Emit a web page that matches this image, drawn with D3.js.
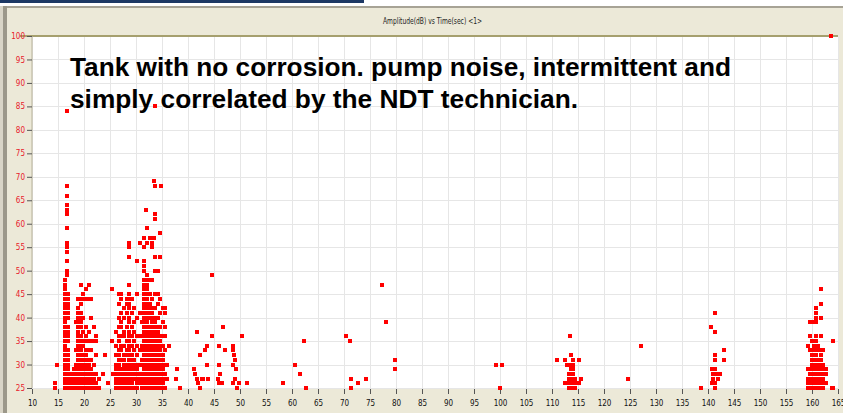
<!DOCTYPE html>
<meta charset="utf-8">
<script src="https://d3js.org/d3.v7.min.js"></script>
<style>
  body { margin: 0; background: #ece9d8; overflow: hidden; }
  .axis text { font-family: "DejaVu Sans Condensed", "Liberation Sans Narrow", Arial, sans-serif; font-size: 8px; }
  .axis path { display: none; }
  .axis--y text { fill: #e8202a; }
  .axis--x text { fill: #111; }
  .axis line { stroke: #555; }
  .grid line { stroke: #e6e6e6; shape-rendering: crispEdges; }
  .grid path { display: none; }
  .note { font-family: Arial, "Liberation Sans", sans-serif; font-weight: bold; font-size: 25px; fill: #000; }
  .title { font-family: "DejaVu Sans Condensed", "Liberation Sans Narrow", Arial, sans-serif; font-size: 8px; fill: #222; }
</style>
<body></body>
<script>

// tick values
var timeTicks = [10, 15, 20, 25, 30, 35, 40, 45, 50, 55, 60, 65, 70, 75, 80, 85, 90, 95, 100,
                 105, 110, 115, 120, 125, 130, 135, 140, 145, 150, 155, 160, 165];
var ampTicks = [25, 30, 35, 40, 45, 50, 55, 60, 65, 70, 75, 80, 85, 90, 95, 100];

// hits: [time (sec), [amplitudes (dB)]]
var burst16 = [
  [14.4, [25, 26]],
  [14.8, [30]],
  [16.3, [25, 26, 27, 28, 29, 30, 31, 32, 33, 34, 35, 36, 37, 38, 39, 40, 41, 42, 43, 44, 45, 46, 47, 48]],
  [16.7, [49, 50, 52, 54, 55, 56, 59, 62, 63, 64, 66, 68, 84]],
  [17.0, [25, 26, 27, 28, 29, 30, 31, 32, 33, 35, 36, 37, 38, 40, 41, 42, 43, 44, 45]],
  [17.6, [25, 26, 27, 28]],
  [18.1, [25, 26, 29]]
];
var burst20 = [
  [18.5, [25, 26, 27, 28, 29, 30, 33, 39]],
  [18.9, [25, 26, 27, 28, 29, 30, 31, 32, 33, 34, 35, 36, 37, 38, 39, 40, 41, 42, 44]],
  [19.4, [25, 26, 27, 28, 29, 30, 31, 32, 33, 34, 35, 36, 38, 39, 40, 41, 43, 44, 47]],
  [19.9, [25, 26, 27, 28, 29, 30, 31, 32, 34, 35, 37, 40, 44, 45]],
  [20.4, [25, 26, 27, 28, 29, 30, 31, 32, 33, 35, 36, 38, 44, 46]],
  [20.9, [25, 26, 27, 28, 29, 30, 31, 33, 35, 37, 44, 47]],
  [21.4, [25, 26, 27, 28, 29, 31, 33, 35, 40, 44]],
  [21.9, [25, 26, 27, 28, 30, 35, 38]],
  [22.4, [25, 26, 28, 32, 35, 36]],
  [22.9, [25, 27]],
  [23.7, [28]],
  [24.0, [32]],
  [24.6, [26]],
  [25.3, [35, 46]],
  [25.6, [28]]
];
var burst28 = [
  [26.2, [25, 26, 27, 28, 29, 30, 32, 34, 37]],
  [26.7, [25, 26, 27, 28, 29, 30, 31, 32, 33, 35, 36, 38, 40, 43, 45]],
  [27.2, [25, 26, 27, 28, 29, 31, 33, 34, 36, 38, 39, 41, 44, 45]],
  [27.7, [25, 26, 27, 28, 29, 30, 31, 32, 34, 36, 37, 40, 42]],
  [28.2, [25, 26, 27, 28, 29, 30, 32, 33, 35, 38, 41, 43, 44]],
  [28.7, [25, 26, 27, 28, 29, 30, 31, 32, 33, 34, 35, 36, 37, 39, 40, 42, 43, 44, 45, 47, 53, 55, 56]],
  [29.2, [25, 26, 27, 28, 29, 30, 31, 32, 34, 36, 38, 41, 44]],
  [29.7, [25, 27, 28, 29, 30, 31, 33, 35, 37, 39, 42]],
  [30.2, [25, 26, 27, 28, 29, 30, 32, 34, 36, 40, 45, 52]],
  [30.7, [26, 27, 28, 30, 33, 36, 41, 56]],
  [31.1, [25, 28, 31, 34, 39]]
];
var burst33 = [
  [31.6, [25, 26, 27, 28, 29, 30, 31, 32, 33, 34, 35, 36, 37, 38, 39, 40, 41, 42, 43, 44, 45, 46, 47, 48, 50, 51, 52, 55, 57]],
  [31.9, [63]],
  [32.1, [25, 26, 27, 28, 29, 30, 31, 32, 33, 34, 35, 36, 37, 38, 39, 40, 41, 42, 43, 44, 45, 46, 47, 48, 49, 56, 59]],
  [32.6, [25, 26, 27, 28, 29, 30, 31, 32, 33, 34, 35, 36, 37, 38, 40, 41, 42, 43, 45, 48, 57]],
  [33.1, [25, 26, 27, 28, 29, 30, 31, 32, 33, 34, 35, 36, 37, 38, 39, 40, 41, 42, 44, 48, 55, 56]],
  [33.4, [57, 69]],
  [33.7, [25, 26, 27, 28, 29, 30, 31, 32, 33, 34, 35, 36, 37, 38, 39, 40, 42, 45, 50, 53, 61, 62, 68, 85]],
  [34.2, [25, 26, 27, 28, 29, 30, 31, 32, 33, 34, 35, 36, 37, 38, 40, 43, 45, 50]],
  [34.7, [25, 26, 27, 28, 29, 30, 31, 32, 33, 34, 35, 36, 38, 41, 44, 53, 58]],
  [34.9, [68]],
  [35.2, [25, 26, 27, 28, 29, 30, 31, 32, 34, 36, 39, 42]],
  [35.6, [25, 27, 28, 30, 33, 36, 38, 41, 42]],
  [36.0, [27, 30]],
  [36.4, [34]]
];
var burst113 = [
  [113.2, [25, 26, 27, 28]],
  [113.6, [25, 26, 27, 28, 29, 30]],
  [114.0, [25, 26, 27, 28, 29, 30, 31]],
  [114.4, [25, 26, 27]]
];
var burst161 = [
  [159.2, [25, 26, 27, 29, 34]],
  [159.6, [25, 26, 27, 28, 33, 36, 39]],
  [160.0, [25, 26, 27, 28, 29, 30, 31, 32, 33, 35]],
  [160.4, [25, 26, 27, 28, 29, 30, 31, 32, 34, 39]],
  [160.8, [25, 26, 27, 28, 29, 30, 31, 32, 33, 34, 35, 36, 39, 40, 41, 42]],
  [161.2, [25, 26, 27, 28, 29, 30, 31, 33, 34]],
  [161.7, [25, 26, 27, 28, 29, 30, 31, 32, 33, 36, 40, 43, 46]],
  [162.2, [25, 26, 27, 28, 29, 30, 33]],
  [162.6, [26, 28, 29]],
  [163.8, [25]]
];
// scattered single hits: [time, amplitude]
var sparseHits = [
  [37.6, 27], [37.8, 29], [38.5, 25], [41.7, 37], [41.2, 29], [41.3, 28], [41.7, 27], [42.0, 26],
  [42.3, 25], [42.6, 27], [42.9, 27], [43.9, 27], [42.4, 32], [43.3, 33], [43.7, 34], [43.6, 30],
  [44.6, 36], [44.7, 49], [46.0, 34], [46.8, 38], [47.1, 33], [46.0, 30], [46.2, 28], [46.0, 26],
  [46.5, 26], [45.8, 27], [48.6, 34], [48.6, 33], [48.9, 32], [49.1, 31], [48.6, 30], [49.3, 29],
  [49.0, 27], [48.6, 26], [49.5, 25], [49.9, 26], [50.3, 36], [51.3, 26],
  [58.3, 26], [60.6, 30], [61.5, 28], [62.4, 35], [62.6, 25],
  [70.3, 36], [71.2, 35], [71.3, 27], [71.3, 25], [72.6, 26], [74.2, 27], [77.3, 47], [78.0, 39],
  [79.8, 31], [79.8, 29],
  [99.2, 30], [100.4, 30], [100.0, 25],
  [111.0, 31], [112.5, 31], [112.8, 30], [113.5, 36], [113.6, 32], [115.1, 31], [112.5, 26],
  [115.2, 26], [115.6, 27],
  [124.7, 27], [127.1, 34], [138.6, 25],
  [140.6, 38], [141.3, 41], [141.3, 37], [141.3, 32], [141.3, 31], [143.1, 33], [143.1, 31],
  [140.8, 29], [141.3, 29], [141.0, 28], [141.6, 28], [142.3, 28], [141.0, 27], [142.0, 27],
  [140.8, 26], [141.3, 26], [141.4, 25],
  [164.0, 35], [164.0, 25], [163.7, 100]
];

var noteLines = ["Tank with no corrosion. pump noise, intermittent and",
                 "simply correlated by the NDT technician."];
var noteWidths = [661, 508];

var W = 843, H = 413;
var margin = {top: 36, right: 5, bottom: 25, left: 32};
var width = W - margin.left - margin.right,
    height = H - margin.top - margin.bottom;

var svg = d3.select("body").append("svg")
    .attr("width", W)
    .attr("height", H);

// window chrome
svg.append("rect").attr("x", 0).attr("y", 0).attr("width", W).attr("height", 6).attr("fill", "#fff");
svg.append("rect").attr("x", 0).attr("y", 0).attr("width", 364).attr("height", 3).attr("fill", "#1d3864");
svg.append("rect").attr("x", 0).attr("y", 6).attr("width", W).attr("height", 2).attr("fill", "#a7a395");
svg.append("rect").attr("x", 0).attr("y", 6).attr("width", 3).attr("height", H).attr("fill", "#d9d5c7");
svg.append("rect").attr("x", 3).attr("y", 6).attr("width", 4).attr("height", H).attr("fill", "#9c988a");

svg.append("text")
    .attr("class", "title")
    .attr("x", 383)
    .attr("y", 24)
    .attr("textLength", 99)
    .attr("lengthAdjust", "spacingAndGlyphs")
    .text("Amplitude(dB) vs Time(sec) <1>");

var g = svg.append("g")
    .attr("transform", "translate(" + margin.left + "," + margin.top + ")");

var x = d3.scaleLinear().domain([10, 165]).range([0, width]),
    y = d3.scaleLinear().domain([25, 100]).range([height, 0]);

g.append("rect")
    .attr("width", width)
    .attr("height", height)
    .attr("fill", "#fff");

g.append("g")
    .attr("class", "grid")
    .call(d3.axisBottom(x).tickValues(timeTicks).tickSize(height).tickFormat(""));
g.append("g")
    .attr("class", "grid")
    .call(d3.axisLeft(y).tickValues(ampTicks).tickSize(-width).tickFormat(""));

// plot frame
g.append("line").attr("x1", -12).attr("x2", width).attr("y1", 0).attr("y2", 0)
    .attr("stroke", "#8f8748").attr("stroke-width", 1.5);
g.append("line").attr("x1", 0).attr("x2", 0).attr("y1", 0).attr("y2", height)
    .attr("stroke", "#b9b39a");

g.append("g")
    .attr("class", "axis axis--x")
    .attr("transform", "translate(0," + (height + 1) + ")")
    .call(d3.axisBottom(x).tickValues(timeTicks).tickSize(5).tickPadding(6).tickFormat(d3.format("d")));
g.append("g")
    .attr("class", "axis axis--y")
    .call(d3.axisLeft(y).tickValues(ampTicks).tickSize(5).tickPadding(2).tickFormat(d3.format("d")));

// flatten bursts into single hits
var hits = [];
[burst16, burst20, burst28, burst33, burst113, burst161].forEach(function(burst) {
  burst.forEach(function(col) {
    col[1].forEach(function(a) { hits.push([col[0], a]); });
  });
});
hits = hits.concat(sparseHits);

var size = 4;
g.append("g")
    .attr("class", "hits")
    .attr("fill", "#ff0000")
    .attr("shape-rendering", "crispEdges")
  .selectAll("rect")
  .data(hits)
  .enter().append("rect")
    .attr("x", function(d) { return x(d[0]) - size / 2; })
    .attr("y", function(d) { return y(d[1]) - size / 2; })
    .attr("width", size)
    .attr("height", size);

svg.append("g")
  .selectAll("text")
  .data(noteLines)
  .enter().append("text")
    .attr("class", "note")
    .attr("x", 70)
    .attr("y", function(d, i) { return 76 + i * 32; })
    .attr("textLength", function(d, i) { return noteWidths[i]; })
    .attr("lengthAdjust", "spacingAndGlyphs")
    .text(function(d) { return d; });

</script>
